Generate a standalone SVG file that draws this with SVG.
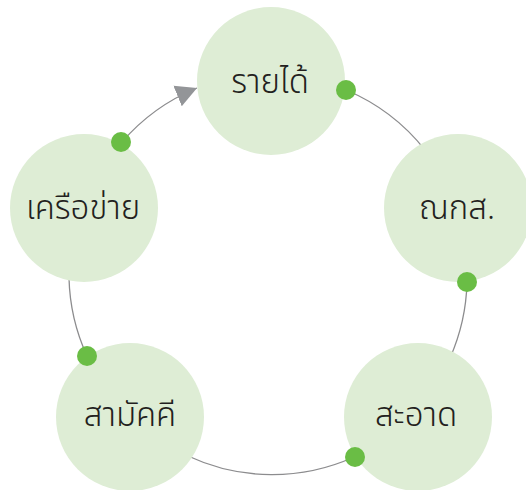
<svg xmlns="http://www.w3.org/2000/svg" width="526" height="490" viewBox="0 0 526 490">
<style>
.node circle{fill:#deedd5}
.node text{font-family:"Noto Sans Thai","Noto Sans",sans-serif;font-size:33px;fill:#231f20;text-anchor:middle;dominant-baseline:central;font-weight:300}
.link{fill:none;stroke:#8c8c8e;stroke-width:1.3}
.dot{fill:#6abd45}
</style>
<defs>
<marker id="arr" markerUnits="userSpaceOnUse" markerWidth="24" markerHeight="24" refX="21" refY="11" orient="auto" viewBox="0 0 24 22">
<path d="M0,0 L21,11 L0,22 Z" fill="#939598"/>
</marker>
</defs>
<g id="connectors">
<path class="link" d="M122,142 A199,199 0 0 1 197,88" marker-end="url(#arr)"/>
<path class="link" d="M346,90 A199,199 0 0 1 425,150"/>
<path class="link" d="M467,282 A199,199 0 0 1 450,358"/>
<path class="link" d="M354,457 A199,199 0 0 1 188,456"/>
<path class="link" d="M87,356 A199,199 0 0 1 69,278"/>
</g>
<g id="n-income" class="node"><circle cx="271" cy="81" r="74"/><text x="270" y="83">รายได้</text></g>
<g id="n-bank" class="node"><circle cx="458" cy="208" r="74"/><text x="457" y="209">ณกส.</text></g>
<g id="n-clean" class="node"><circle cx="418" cy="417" r="74"/><text x="416" y="416">สะอาด</text></g>
<g id="n-unity" class="node"><circle cx="130" cy="417" r="74"/><text x="130" y="416">สามัคคี</text></g>
<g id="n-network" class="node"><circle cx="84" cy="208" r="74"/><text x="83" y="209">เครือข่าย</text></g>
<g id="dots">
<circle class="dot" cx="346" cy="90" r="10"/>
<circle class="dot" cx="467" cy="282" r="10"/>
<circle class="dot" cx="355" cy="457" r="10"/>
<circle class="dot" cx="87" cy="356" r="10"/>
<circle class="dot" cx="121" cy="142" r="10"/>
</g>
</svg>
